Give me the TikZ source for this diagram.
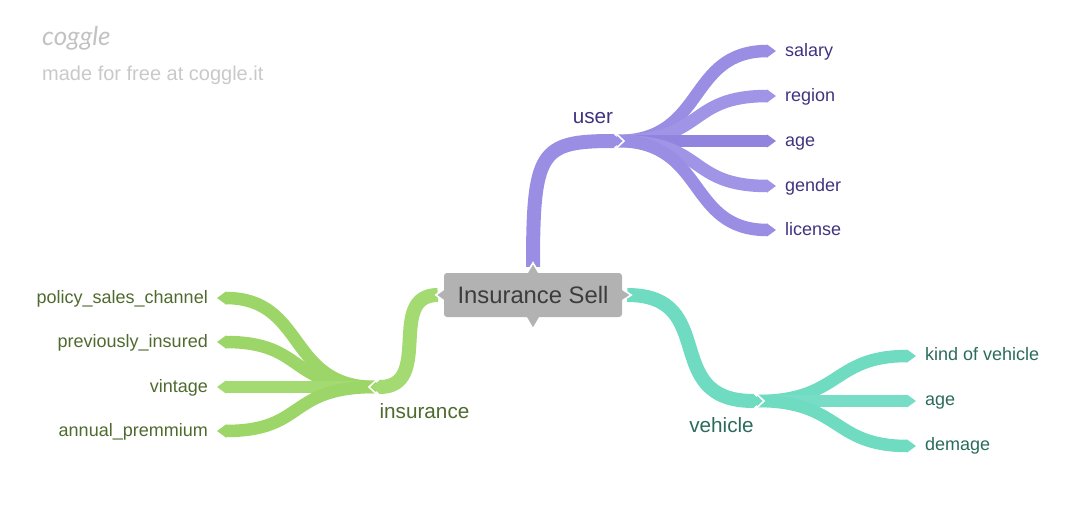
\documentclass[tikz,border=0pt]{standalone}
\usepackage{fontspec}
\setmainfont{Liberation Sans}
\newfontfamily\logofont{Lato}
\usetikzlibrary{arrows.meta,backgrounds}
\definecolor{userA}{HTML}{9A8DE4}
\definecolor{userB}{HTML}{A094E6}
\definecolor{userC}{HTML}{9184DF}
\definecolor{userText}{HTML}{41337F}
\definecolor{insA}{HTML}{9DD668}
\definecolor{insB}{HTML}{A3DA72}
\definecolor{insText}{HTML}{4F6A2F}
\definecolor{vehA}{HTML}{6FDBC1}
\definecolor{vehB}{HTML}{78DDC6}
\definecolor{vehText}{HTML}{2B6B5C}
\definecolor{rootFill}{HTML}{B2B2B2}
\definecolor{rootText}{HTML}{3C3C3C}
\tikzset{
	leaf/.style={font=\fontsize{18}{20}\selectfont,inner ysep=0pt,inner xsep=9pt,text height=13.5pt,text depth=3.5pt},
	hub/.style={font=\fontsize{20.7}{24}\selectfont,inner sep=0pt},
	branch/.style={line width=12.5pt,-{Triangle[length=9pt,width=12.5pt]}},
	limb/.style={line width=14pt,shorten >=-4pt,-{Triangle[length=8pt,width=14pt]}},
	notch/.style={draw=white,line width=1.6pt},
	pointer/.style={fill=rootFill,draw=white,line width=1.6pt}
}
\begin{document}
\begin{tikzpicture}[x=1pt,y=-1pt]
	\useasboundingbox (0,0) rectangle (1080,504);
	
	\node[inner sep=0pt,anchor=west,text=black!24,font=\logofont\itshape\fontsize{26}{30}\selectfont] (logo) at (42,38.5) {coggle};
	\node[inner sep=0pt,anchor=west,text=black!21,font=\fontsize{20}{24}\selectfont] (madefor) at (42,75.5) {made for free at coggle.it};
	
	\node[fill=rootFill,text=rootText,rounded corners=3pt,minimum width=178pt,minimum height=44pt,inner sep=0pt,font=\fontsize{23.8}{28}\selectfont] (root) at (533,295) {Insurance Sell};
	
	\coordinate (userhub) at (617,141);
	\coordinate (inshub) at (376,387);
	\coordinate (vehhub) at (757,401);
	\node[hub,text=userText] (user) at (593,118.5) {user};
	\node[hub,text=insText] (insurance) at (424.5,411.5) {insurance};
	\node[hub,text=vehText] (vehicle) at (721.5,425.5) {vehicle};
	
	\foreach \n/\t/\y/\c in {salary/salary/51/userA,region/region/96/userB,age/age/141/userC,gender/gender/186/userB,license/license/230/userA} {
		\node[leaf,anchor=west,text=userText] (\n) at (776,\y) {\t};
		\begin{scope}[on background layer]
			\draw[branch,draw=\c] (userhub) .. controls +(90,0) and +(-90,0) .. (\n.west);
		\end{scope}
	}
	\foreach \n/\t/\y/\c in {kind/kind of vehicle/356/vehA,vage/age/401/vehB,demage/demage/446/vehA} {
		\node[leaf,anchor=west,text=vehText,text height=13pt,text depth=4pt] (\n) at (916,\y) {\t};
		\begin{scope}[on background layer]
			\draw[branch,draw=\c] (vehhub) .. controls +(85,0) and +(-85,0) .. (\n.west);
		\end{scope}
	}
	\foreach \n/\t/\y/\c in {policy/policy\_sales\_channel/298/insA,previously/previously\_insured/342/insA,vintage/vintage/387/insB,annual/annual\_premmium/431/insA} {
		\node[leaf,anchor=east,text=insText] (\n) at (217,\y) {\t};
		\begin{scope}[on background layer]
			\draw[branch,draw=\c] (inshub) .. controls +(-90,0) and +(90,0) .. (\n.east);
		\end{scope}
	}
	
	\begin{scope}[on background layer]
		% limbs out of the root
		\draw[limb,draw=userA,shorten <=6pt] (root.north) .. controls +(0,-122) and +(-77,0) .. (userhub);
		\draw[limb,draw=vehA,shorten <=5pt] (root.east) .. controls +(98,0) and +(-98,0) .. (vehhub);
		\draw[limb,draw=insB,shorten <=6pt] (root.west) .. controls +(-58,0) and +(58,0) .. (inshub);
		% white notches at the hubs
		\draw[notch] (617,134.5) -- (624,141) -- (617,147.5);
		\draw[notch] (757,394.5) -- (764,401) -- (757,407.5);
		\draw[notch] (376,380.5) -- (369,387) -- (376,393.5);
		% pointers on the root
		\draw[pointer] (root.north)+(-6.5,1) -- +(0,-10) -- +(6.5,1);
		\draw[pointer] (root.east)+(-1,-6.5) -- +(9,0) -- +(-1,6.5);
		\draw[pointer] (root.west)+(1,-6.5) -- +(-8,0) -- +(1,6.5);
		\fill[rootFill] (root.south)+(-6.5,-1) -- +(0,10) -- +(6.5,-1) -- cycle;
	\end{scope}
\end{tikzpicture}
\end{document}
